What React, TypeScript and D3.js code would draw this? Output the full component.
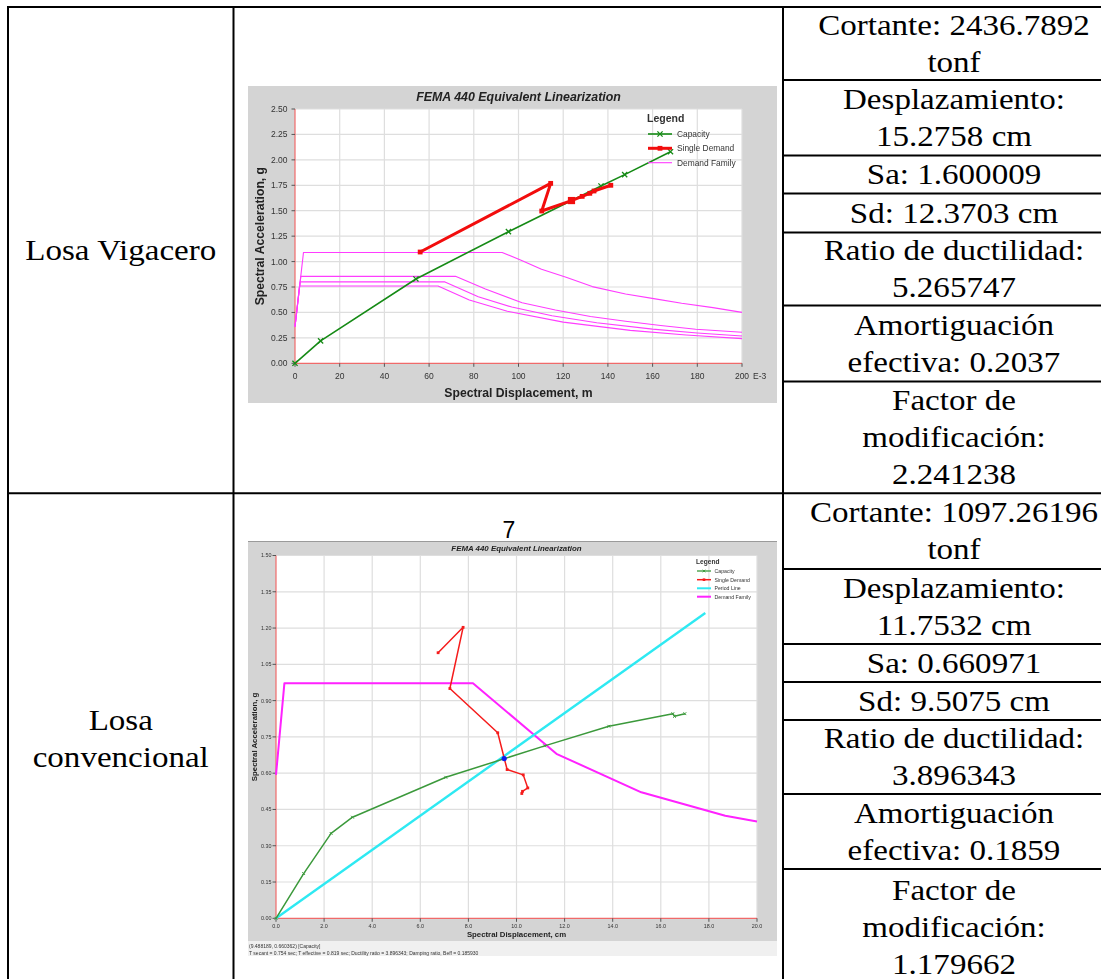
import React from 'react';
import * as d3 from 'd3';

type Pt = [number, number];

// ---------- Losa Vigacero: FEMA 440 (Sd en m x E-3, Sa en g) ----------
const vigCapacity: Pt[] = [
  [0, 0], [11.45, 0.22], [54.1, 0.829], [95.5, 1.294], [136.9, 1.743], [147.5, 1.855], [168, 2.08],
];
const vigSingleDemand: Pt[] = [
  [56, 1.094], [114.4, 1.769], [110.4, 1.497], [123.703, 1.600009], [128.5, 1.641],
  [131.9, 1.671], [133.8, 1.694], [141.3, 1.75],
];
const vigPerformance: Pt = [123.703, 1.600009];
const vigDemandA: Pt[] = [
  [0, 0.36], [3.8, 1.09], [92.7, 1.09], [100.9, 1.016], [110.3, 0.924], [121.3, 0.845],
  [133, 0.754], [147.9, 0.682], [160.5, 0.636], [173, 0.59], [187, 0.547], [200, 0.501],
];
const vigDemandB: Pt[] = [
  [0, 0.36], [2.6, 0.855], [71.8, 0.855], [85.2, 0.73], [101.6, 0.596], [116.5, 0.524],
  [132.2, 0.46], [147.9, 0.413], [163.6, 0.372], [179.3, 0.335], [200, 0.305],
];
const vigDemandC: Pt[] = [
  [0, 0.36], [2.3, 0.8], [67.1, 0.8], [82, 0.655], [97, 0.553], [115, 0.467], [135, 0.398],
  [160, 0.336], [180, 0.298], [200, 0.269],
];
const vigDemandD: Pt[] = [
  [0, 0.36], [2, 0.76], [64, 0.76], [78, 0.623], [95, 0.512], [120, 0.405], [150, 0.324],
  [175, 0.278], [200, 0.243],
];
const vigDemandFamily: Pt[][] = [vigDemandA, vigDemandB, vigDemandC, vigDemandD];
const vigXTicks = [0, 20, 40, 60, 80, 100, 120, 140, 160, 180, 200];
const vigYTicks = [0, 0.25, 0.5, 0.75, 1.0, 1.25, 1.5, 1.75, 2.0, 2.25, 2.5];

// ---------- Losa convencional: FEMA 440 (Sd en cm, Sa en g) ----------
const convCapacity: Pt[] = [
  [0, 0], [1.15, 0.185], [2.29, 0.351], [3.18, 0.418], [7.06, 0.583], [11.17, 0.713],
  [13.84, 0.794], [16.5, 0.846], [16.57, 0.835], [17.0, 0.846],
];
const convSingleDemand: Pt[] = [
  [6.74, 1.098], [7.78, 1.203], [7.23, 0.95], [9.22, 0.767], [9.61, 0.615], [10.28, 0.593],
  [10.47, 0.539], [10.25, 0.525], [10.22, 0.516],
];
const convPeriodLine: Pt[] = [[0, 0], [17.85, 1.262]];
const convDemandFamily: Pt[] = [
  [0, 0.593], [0.35, 0.972], [8.19, 0.972], [11.66, 0.68], [15.19, 0.521], [18.68, 0.424], [20, 0.4],
];
const convPerformance: Pt = [9.488189, 0.660362];
const convXTicks = [0, 2, 4, 6, 8, 10, 12, 14, 16, 18, 20];
const convYTicks = [0, 0.15, 0.3, 0.45, 0.6, 0.75, 0.9, 1.05, 1.2, 1.35, 1.5];
const convStatus = [
  '(9.488189, 0.660362)  [Capacity]',
  'T secant = 0.754 sec;  T effective = 0.819 sec;  Ductility ratio = 3.896343;  Damping ratio, Beff = 0.185930',
];

// ---------- Tabla de resultados ----------
const rowLabels = [['Losa Vigacero'], ['Losa', 'convencional']];
const vigResults = [
  ['Cortante: 2436.7892', 'tonf'],
  ['Desplazamiento:', '15.2758 cm'],
  ['Sa: 1.600009'],
  ['Sd: 12.3703 cm'],
  ['Ratio de ductilidad:', '5.265747'],
  ['Amortiguación', 'efectiva: 0.2037'],
  ['Factor de', 'modificación:', '2.241238'],
];
const convResults = [
  ['Cortante: 1097.26196', 'tonf'],
  ['Desplazamiento:', '11.7532 cm'],
  ['Sa: 0.660971'],
  ['Sd: 9.5075 cm'],
  ['Ratio de ductilidad:', '3.896343'],
  ['Amortiguación', 'efectiva: 0.1859'],
  ['Factor de', 'modificación:', '1.179662'],
];

// layout of the table grid
const COL_LEFT = 8;
const COL_MID1 = 233.5;
const COL_MID2 = 783;
const COL_RIGHT = 1125;
const vigRowBounds = [7, 80, 155.5, 193.5, 232.5, 305.5, 381.5, 493.3];
const convRowBounds = [493.3, 569, 644, 682, 720, 794, 869, 985];
const LINE_H = 37;
const TEXT_STRETCH = 1.12;
const SERIF = "'Liberation Serif', 'Times New Roman', serif";
const SANS = "'Liberation Sans', Arial, sans-serif";

type MarkerKind = 'x' | 'square' | undefined;

interface SeriesDef {
  name: string;
  pts: Pt[];
  color: string;
  width: number;
  marker?: MarkerKind;
  markerSize?: number;
  markerStroke?: number;
}

function Marker({ kind, x, y, s, color, w }: { kind: MarkerKind; x: number; y: number; s: number; color: string; w: number }) {
  if (kind === 'x') {
    return (
      <path
        d={`M${x - s},${y - s}L${x + s},${y + s}M${x - s},${y + s}L${x + s},${y - s}`}
        stroke={color}
        strokeWidth={w}
        fill="none"
      />
    );
  }
  if (kind === 'square') {
    return <rect x={x - s} y={y - s} width={2 * s} height={2 * s} fill={color} />;
  }
  return null;
}

interface ChartProps {
  id: string;
  frame: { x: number; y: number; w: number; h: number };
  plot: { left: number; right: number; top: number; bottom: number };
  xDomain: [number, number];
  yDomain: [number, number];
  xTicks: number[];
  yTicks: number[];
  xFmt: (v: number) => string;
  yFmt: (v: number) => string;
  xSuffix?: string;
  title: string;
  titleY: number;
  titleSize: number;
  xTitle: string;
  xTitleY: number;
  yTitle: string;
  yTitleX: number;
  axisTitleSize: number;
  tickSize: number;
  tickLabelGap: number;
  xTickLabelY: number;
  series: SeriesDef[];
  perf: { pt: Pt; color: string; size: number; shape: 'square' | 'circle' };
  legend: { x: number; titleY: number; titleSize: number; lineX: [number, number]; textX: number; textSize: number; itemY: number[]; items: SeriesDef[] };
  status?: { lines: string[]; y: number[]; size: number; barTop: number; barBottom: number };
  topBorder?: boolean;
  blur: string;
}

function FemaChart(p: ChartProps) {
  const x = d3.scaleLinear().domain(p.xDomain).range([p.plot.left, p.plot.right]);
  const y = d3.scaleLinear().domain(p.yDomain).range([p.plot.bottom, p.plot.top]);
  const line = d3.line<Pt>().x((d) => x(d[0])).y((d) => y(d[1]));
  const plotCx = (p.plot.left + p.plot.right) / 2;
  const plotCy = (p.plot.top + p.plot.bottom) / 2;

  return (
    <g filter={`url(#${p.blur})`}>
      <rect x={p.frame.x} y={p.frame.y} width={p.frame.w} height={p.frame.h} fill="#d4d4d4" />
      {p.topBorder && (
        <line x1={p.frame.x} x2={p.frame.x + p.frame.w} y1={p.frame.y + 0.5} y2={p.frame.y + 0.5} stroke="#9a9a9a" strokeWidth={1} />
      )}
      {p.status && (
        <g>
          <rect x={p.frame.x} y={p.status.barTop} width={p.frame.w} height={p.status.barBottom - p.status.barTop} fill="#f0f0f0" />
          {p.status.lines.map((t, i) => (
            <text key={i} x={p.frame.x + 1} y={p.status.y[i]} fontSize={p.status.size} fill="#333" fontFamily={SANS}>
              {t}
            </text>
          ))}
        </g>
      )}
      <rect x={p.plot.left} y={p.plot.top} width={p.plot.right - p.plot.left} height={p.plot.bottom - p.plot.top} fill="#ffffff" />
      {/* grid */}
      {p.xTicks.filter((t) => t !== p.xDomain[0]).map((t) => (
        <line key={'gx' + t} x1={x(t)} x2={x(t)} y1={p.plot.top} y2={p.plot.bottom} stroke="#dedede" strokeWidth={1.2} />
      ))}
      {p.yTicks.filter((t) => t !== p.yDomain[0]).map((t) => (
        <line key={'gy' + t} x1={p.plot.left} x2={p.plot.right} y1={y(t)} y2={y(t)} stroke="#dedede" strokeWidth={1.2} />
      ))}
      {/* axes */}
      <line x1={p.plot.left} x2={p.plot.left} y1={p.plot.top} y2={p.plot.bottom} stroke="#f06a6a" strokeWidth={1.2} />
      <line x1={p.plot.left} x2={p.plot.right} y1={p.plot.bottom} y2={p.plot.bottom} stroke="#f06a6a" strokeWidth={1.2} />
      {p.yTicks.map((t) => (
        <g key={'ty' + t}>
          <line x1={p.plot.left - 3.5} x2={p.plot.left} y1={y(t)} y2={y(t)} stroke="#555" strokeWidth={1} />
          <text x={p.plot.left - p.tickLabelGap} y={y(t)} dy="0.35em" textAnchor="end" fontSize={p.tickSize} fill="#333">
            {p.yFmt(t)}
          </text>
        </g>
      ))}
      {p.xTicks.map((t) => (
        <g key={'tx' + t}>
          <line x1={x(t)} x2={x(t)} y1={p.plot.bottom} y2={p.plot.bottom + 3.5} stroke="#555" strokeWidth={1} />
          <text x={x(t)} y={p.xTickLabelY} textAnchor="middle" fontSize={p.tickSize} fill="#333">
            {p.xFmt(t)}
          </text>
        </g>
      ))}
      {p.xSuffix && (
        <text x={x(p.xDomain[1]) + 11} y={p.xTickLabelY} fontSize={p.tickSize} fill="#333">
          {p.xSuffix}
        </text>
      )}
      {/* titles */}
      <text x={plotCx} y={p.titleY} textAnchor="middle" fontSize={p.titleSize} fontWeight="bold" fontStyle="italic" fill="#222">
        {p.title}
      </text>
      <text x={plotCx} y={p.xTitleY} textAnchor="middle" fontSize={p.axisTitleSize} fontWeight="bold" fill="#222">
        {p.xTitle}
      </text>
      <text
        transform={`translate(${p.yTitleX},${plotCy}) rotate(-90)`}
        textAnchor="middle"
        fontSize={p.axisTitleSize}
        fontWeight="bold"
        fill="#222"
      >
        {p.yTitle}
      </text>
      {/* series */}
      {p.series.map((s) => (
        <g key={s.name}>
          <path d={line(s.pts) || ''} fill="none" stroke={s.color} strokeWidth={s.width} strokeLinejoin="round" />
          {s.marker &&
            s.pts.map((d, i) => (
              <Marker key={i} kind={s.marker} x={x(d[0])} y={y(d[1])} s={s.markerSize || 2} color={s.color} w={s.markerStroke || 1.2} />
            ))}
        </g>
      ))}
      {p.perf.shape === 'square' ? (
        <rect
          x={x(p.perf.pt[0]) - p.perf.size}
          y={y(p.perf.pt[1]) - p.perf.size}
          width={2 * p.perf.size}
          height={2 * p.perf.size}
          fill={p.perf.color}
        />
      ) : (
        <circle cx={x(p.perf.pt[0])} cy={y(p.perf.pt[1])} r={p.perf.size} fill={p.perf.color} />
      )}
      {/* legend */}
      <text x={p.legend.x} y={p.legend.titleY} fontSize={p.legend.titleSize} fontWeight="bold" fill="#333">
        Legend
      </text>
      {p.legend.items.map((s, i) => {
        const ly = p.legend.itemY[i];
        const mx = (p.legend.lineX[0] + p.legend.lineX[1]) / 2;
        return (
          <g key={'lg' + s.name}>
            <line x1={p.legend.lineX[0]} x2={p.legend.lineX[1]} y1={ly} y2={ly} stroke={s.color} strokeWidth={s.width} />
            {s.marker && <Marker kind={s.marker} x={mx} y={ly} s={s.markerSize || 2} color={s.color} w={s.markerStroke || 1.2} />}
            <text x={p.legend.textX} y={ly} dy="0.35em" fontSize={p.legend.textSize} fill="#333">
              {s.name}
            </text>
          </g>
        );
      })}
    </g>
  );
}

function CellText({ lines, cx, top, bottom, size }: { lines: string[]; cx: number; top: number; bottom: number; size: number }) {
  const mid = (top + bottom) / 2;
  const n = lines.length;
  return (
    <g>
      {lines.map((t, i) => (
        <text
          key={i}
          transform={`translate(${cx},${mid + (i - (n - 1) / 2) * LINE_H + 9.5}) scale(${TEXT_STRETCH},1)`}
          textAnchor="middle"
          fontFamily={SERIF}
          fontSize={size}
          fill="#000"
        >
          {t}
        </text>
      ))}
    </g>
  );
}

function ResultsTable() {
  const rows = [
    { bounds: vigRowBounds, results: vigResults, label: rowLabels[0] },
    { bounds: convRowBounds, results: convResults, label: rowLabels[1] },
  ];
  const leftCx = (COL_LEFT + COL_MID1) / 2;
  const rightCx = (COL_MID2 + COL_RIGHT) / 2;
  const top = vigRowBounds[0];
  const bottom = convRowBounds[convRowBounds.length - 1];
  return (
    <g>
      {rows.map((r, ri) => (
        <g key={ri}>
          <CellText lines={r.label} cx={leftCx} top={r.bounds[0]} bottom={r.bounds[r.bounds.length - 1]} size={29.5} />
          {r.results.map((lines, ci) => (
            <CellText key={ci} lines={lines} cx={rightCx} top={r.bounds[ci]} bottom={r.bounds[ci + 1]} size={29.5} />
          ))}
          {r.bounds.slice(1, -1).map((b, bi) => (
            <line key={bi} x1={COL_MID2} x2={COL_RIGHT} y1={b} y2={b} stroke="#000" strokeWidth={2} />
          ))}
        </g>
      ))}
      <line x1={COL_LEFT - 1} x2={COL_RIGHT} y1={top} y2={top} stroke="#000" strokeWidth={2} />
      <line x1={COL_LEFT - 1} x2={COL_RIGHT} y1={vigRowBounds[vigRowBounds.length - 1]} y2={vigRowBounds[vigRowBounds.length - 1]} stroke="#000" strokeWidth={2} />
      <line x1={COL_LEFT - 1} x2={COL_RIGHT} y1={bottom} y2={bottom} stroke="#000" strokeWidth={2} />
      {[COL_LEFT, COL_MID1, COL_MID2, COL_RIGHT].map((cx) => (
        <line key={cx} x1={cx} x2={cx} y1={top - 1} y2={bottom + 1} stroke="#000" strokeWidth={2} />
      ))}
    </g>
  );
}

export default function App() {
  const vigSeries: SeriesDef[] = [
    ...vigDemandFamily.map((pts, i) => ({ name: 'Demand Family ' + i, pts, color: '#ff3cff', width: 1.1 })),
    { name: 'Capacity', pts: vigCapacity, color: '#158a15', width: 1.6, marker: 'x' as MarkerKind, markerSize: 2.6, markerStroke: 1.3 },
    { name: 'Single Demand', pts: vigSingleDemand, color: '#f20c0c', width: 3, marker: 'square' as MarkerKind, markerSize: 2.4 },
  ];
  const vigLegend: SeriesDef[] = [
    { name: 'Capacity', pts: [], color: '#158a15', width: 1.6, marker: 'x', markerSize: 2.6, markerStroke: 1.3 },
    { name: 'Single Demand', pts: [], color: '#f20c0c', width: 3, marker: 'square', markerSize: 2.4 },
    { name: 'Demand Family', pts: [], color: '#ff3cff', width: 1.1 },
  ];

  const convSeries: SeriesDef[] = [
    { name: 'Demand Family', pts: convDemandFamily, color: '#ff20ff', width: 2 },
    { name: 'Period Line', pts: convPeriodLine, color: '#2ee9f2', width: 2.4 },
    { name: 'Capacity', pts: convCapacity, color: '#3b993b', width: 1.5, marker: 'x' as MarkerKind, markerSize: 1.4, markerStroke: 1 },
    { name: 'Single Demand', pts: convSingleDemand, color: '#f51c1c', width: 1.5, marker: 'square' as MarkerKind, markerSize: 1.4 },
  ];
  const convLegend: SeriesDef[] = [
    { name: 'Capacity', pts: [], color: '#3b993b', width: 1.3, marker: 'x', markerSize: 1.3, markerStroke: 0.9 },
    { name: 'Single Demand', pts: [], color: '#f51c1c', width: 1.5, marker: 'square', markerSize: 1.3 },
    { name: 'Period Line', pts: [], color: '#2ee9f2', width: 2 },
    { name: 'Demand Family', pts: [], color: '#ff20ff', width: 2 },
  ];

  return (
    <svg
      width={1101}
      height={979}
      viewBox="0 0 1101 979"
      style={{ position: 'absolute', left: 0, top: 0, display: 'block' }}
      fontFamily={SANS}
    >
      <defs>
        <filter id="soft1" x="-0.02" y="-0.02" width="1.04" height="1.04">
          <feGaussianBlur stdDeviation="0.3" />
        </filter>
        <filter id="soft2" x="-0.02" y="-0.02" width="1.04" height="1.04">
          <feGaussianBlur stdDeviation="0.5" />
        </filter>
      </defs>
      <rect x={0} y={0} width={1101} height={979} fill="#ffffff" />
      <ResultsTable />
      <FemaChart
        id="vig"
        blur="soft1"
        frame={{ x: 248, y: 86, w: 529, h: 317 }}
        plot={{ left: 295, right: 742, top: 109, bottom: 363.3 }}
        xDomain={[0, 200]}
        yDomain={[0, 2.5]}
        xTicks={vigXTicks}
        yTicks={vigYTicks}
        xFmt={(v) => String(v)}
        yFmt={(v) => v.toFixed(2)}
        xSuffix="E-3"
        title="FEMA 440 Equivalent Linearization"
        titleY={100.5}
        titleSize={12.4}
        xTitle="Spectral Displacement, m"
        xTitleY={396.5}
        yTitle="Spectral Acceleration, g"
        yTitleX={263.5}
        axisTitleSize={12.2}
        tickSize={8.5}
        tickLabelGap={7.5}
        xTickLabelY={379}
        series={vigSeries}
        perf={{ pt: vigPerformance, color: '#f20c0c', size: 3.6, shape: 'square' }}
        legend={{
          x: 647,
          titleY: 121.5,
          titleSize: 10.5,
          lineX: [648, 672],
          textX: 677,
          textSize: 8.4,
          itemY: [134, 148.3, 162.7],
          items: vigLegend,
        }}
      />
      <text x={509} y={538} textAnchor="middle" fontFamily={SANS} fontSize={23} fill="#000">
        7
      </text>
      <FemaChart
        id="conv"
        blur="soft2"
        frame={{ x: 248, y: 541, w: 529, h: 400 }}
        plot={{ left: 276, right: 757, top: 555.5, bottom: 918.3 }}
        xDomain={[0, 20]}
        yDomain={[0, 1.5]}
        xTicks={convXTicks}
        yTicks={convYTicks}
        xFmt={(v) => v.toFixed(1)}
        yFmt={(v) => v.toFixed(2)}
        title="FEMA 440 Equivalent Linearization"
        titleY={551}
        titleSize={7.9}
        xTitle="Spectral Displacement, cm"
        xTitleY={937}
        yTitle="Spectral Acceleration, g"
        yTitleX={256.5}
        axisTitleSize={7.8}
        tickSize={5.4}
        tickLabelGap={4.5}
        xTickLabelY={927.5}
        series={convSeries}
        perf={{ pt: convPerformance, color: '#0a1cf0', size: 2.6, shape: 'circle' }}
        legend={{
          x: 696,
          titleY: 564.3,
          titleSize: 6.6,
          lineX: [697, 711],
          textX: 714.5,
          textSize: 5.2,
          itemY: [571, 579.7, 588.3, 596.7],
          items: convLegend,
        }}
        status={{ lines: convStatus, y: [947.6, 955.2], size: 5, barTop: 941, barBottom: 956 }}
        topBorder
      />
    </svg>
  );
}
